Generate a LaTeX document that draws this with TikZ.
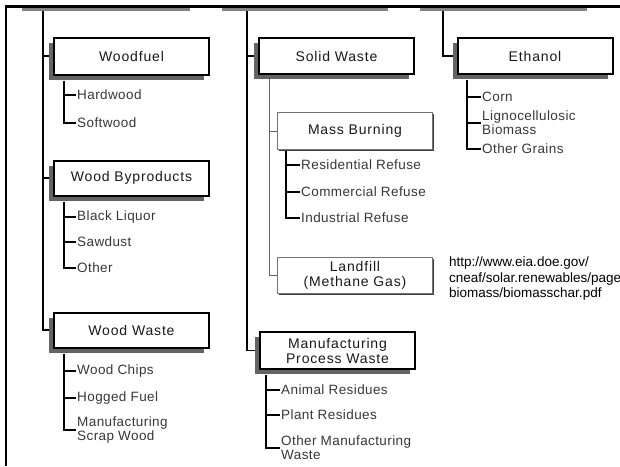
\documentclass[tikz,border=0pt]{standalone}
\usepackage{fontspec}
\setmainfont{Liberation Sans}
\newfontfamily\boxfont[LetterSpace=6]{Liberation Sans}
\newfontfamily\itemfont[LetterSpace=3]{Liberation Sans}
\usepackage{tikz}
\usetikzlibrary{positioning, shadows, backgrounds, calc}
\definecolor{shadowgray}{RGB}{100,100,100}
\definecolor{bargray}{RGB}{130,130,130}
\definecolor{labelgray}{RGB}{55,55,55}

\tikzset{
  mainbox/.style={draw=black, line width=2pt, fill=white, minimum width=155pt,
    minimum height=35pt, align=center, text=black!90,
    font=\boxfont\fontsize{14}{15}\selectfont,
    drop shadow={shadow xshift=-5pt, shadow yshift=-5pt, fill=shadowgray, opacity=1}},
  subbox/.style={draw=black!55, line width=0.8pt, fill=white, minimum width=155pt,
    minimum height=36pt, align=center, text=black!90,
    font=\boxfont\fontsize{14}{15}\selectfont,
    drop shadow={shadow xshift=1.5pt, shadow yshift=-1.5pt, fill=black!75, opacity=1}},
  item/.style={anchor=west, inner sep=1pt, align=left, text=labelgray,
    font=\itemfont\fontsize{13.5}{14}\selectfont},
  trunk/.style={draw=black, line width=2pt},
  thintrunk/.style={draw=black, line width=1.2pt},
  subtrunk/.style={draw=black!60, line width=1pt},
  branch/.style={draw=black, line width=2pt}
}

\begin{document}
\begin{tikzpicture}[x=1pt, y=-1pt]
    \useasboundingbox (0,0) rectangle (620,466);

    % frame and column headers
    \fill[bargray] (22,7) rectangle (190,11);
    \fill[bargray] (222,7) rectangle (388,11);
    \fill[bargray] (420,7) rectangle (587,11);
    \draw[line width=3pt] (5,6) -- (620,6);
    \draw[line width=2.5pt] (6,5) -- (6,466);
    \coordinate (top1) at (43,6);
    \coordinate (top2) at (247,6);
    \coordinate (top3) at (443,6);

    % first column
    \node[mainbox, minimum height=37pt] (woodfuel) at (131.5,56) {Woodfuel};
    \node[mainbox] (byproducts) at (131.5,178) {Wood Byproducts};
    \node[mainbox] (woodwaste) at (131.5,330) {Wood Waste};
    \node[item] (hardwood) at (76,95) {Hardwood};
    \node[item] (softwood) at (76,123) {Softwood};
    \node[item] (liquor) at (76,217) {Black Liquor};
    \node[item] (sawdust) at (76,242) {Sawdust};
    \node[item] (other) at (76,268) {Other};
    \node[item] (chips) at (76,371) {Wood Chips};
    \node[item] (hogged) at (76,398) {Hogged Fuel};
    \node[item] (scrap) at (76,430) {Manufacturing\\Scrap Wood};

    % second column
    \node[mainbox, minimum height=36pt] (solidwaste) at (336.5,56) {Solid Waste};
    \node[subbox, minimum height=37pt] (massburning) at (355,131) {Mass Burning};
    \node[subbox] (landfill) at (355,275) {Landfill\\(Methane Gas)};
    \node[mainbox, minimum height=37pt] (process) at (337.5,350.5) {Manufacturing\\Process Waste};
    \node[item] (residential) at (300,165) {Residential Refuse};
    \node[item] (commercial) at (300,192) {Commercial Refuse};
    \node[item] (industrial) at (300,218) {Industrial Refuse};
    \node[item] (animal) at (280,390) {Animal Residues};
    \node[item] (plant) at (280,415) {Plant Residues};
    \node[item] (othermanuf) at (280,448) {Other Manufacturing\\Waste};

    % third column
    \node[mainbox, minimum height=36pt] (ethanol) at (535,56) {Ethanol};
    \node[item] (corn) at (481,97) {Corn};
    \node[item] (ligno) at (481,123) {Lignocellulosic\\Biomass};
    \node[item] (grains) at (481,149) {Other Grains};

    \node[anchor=west, align=left, inner sep=0pt, font=\fontsize{13.5}{15.5}\selectfont] (source) at (449,279)
        {http://www.eia.doe.gov/\\cneaf/solar.renewables/page\\biomass/biomasschar.pdf};

    \begin{scope}[on background layer]
        \draw[trunk] (top1) |- (woodwaste.west);
        \draw[trunk] (top1 |- woodfuel.west) -- (woodfuel.west);
        \draw[trunk] (top1 |- byproducts.west) -- (byproducts.west);
        \draw[thintrunk] (top2) |- (process.west);
        \draw[thintrunk] (top2 |- solidwaste.west) -- (solidwaste.west);
        \draw[trunk] (top3) |- (ethanol.west);

        \coordinate (solidsub) at ([xshift=11pt]solidwaste.south west);
        \draw[subtrunk] (solidsub) |- (landfill.west);
        \draw[subtrunk] (solidsub |- massburning.west) -- (massburning.west);
    \end{scope}

    % item lists hang below the boxes
    \coordinate (fuelsub) at ([xshift=11pt, yshift=-5pt]woodfuel.south west);
    \coordinate (bysub) at ([xshift=11pt, yshift=-5pt]byproducts.south west);
    \coordinate (wastesub) at ([xshift=11pt, yshift=-5pt]woodwaste.south west);
    \coordinate (burnsub) at ([xshift=9pt, yshift=-1.5pt]massburning.south west);
    \coordinate (procsub) at ([xshift=7pt, yshift=-5pt]process.south west);
    \coordinate (ethsub) at ([xshift=10pt, yshift=-5pt]ethanol.south west);
    \foreach \sub/\first/\final in {fuelsub/hardwood/softwood, bysub/liquor/other,
            wastesub/chips/scrap, burnsub/residential/industrial,
            procsub/animal/othermanuf, ethsub/corn/grains} {
        \draw[branch] (\sub) |- (\final.west);
        \draw[branch] (\sub |- \first.west) -- (\first.west);
    }
    \draw[branch] (bysub |- sawdust.west) -- (sawdust.west);
    \draw[branch] (wastesub |- hogged.west) -- (hogged.west);
    \draw[branch] (burnsub |- commercial.west) -- (commercial.west);
    \draw[branch] (procsub |- plant.west) -- (plant.west);
    \draw[branch] (ethsub |- ligno.west) -- (ligno.west);
\end{tikzpicture}
\end{document}
